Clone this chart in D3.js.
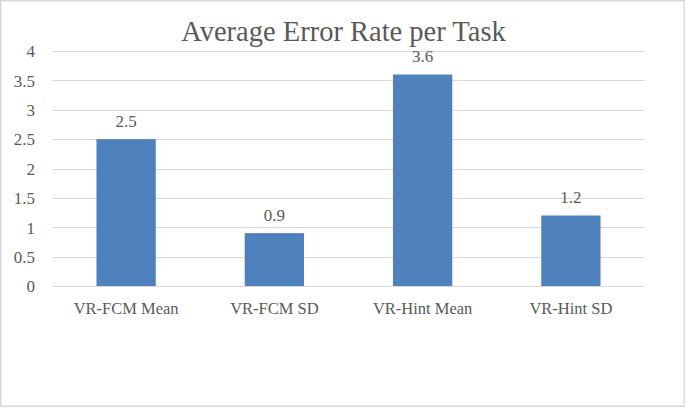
<!DOCTYPE html>
<html><head><meta charset="utf-8">
<script src="https://cdn.jsdelivr.net/npm/d3@7"></script>
<style>html,body{margin:0;padding:0;background:#fff;}svg{display:block;}</style>
</head><body>
<script>
const categories = ["VR-FCM Mean", "VR-FCM SD", "VR-Hint Mean", "VR-Hint SD"];
const values = [2.5, 0.9, 3.6, 1.2];
const yTicks = [0, 0.5, 1, 1.5, 2, 2.5, 3, 3.5, 4];
const title = "Average Error Rate per Task";

(function () {
const W = 685, H = 408;
const font = "'Liberation Serif', 'DejaVu Serif', serif";
const textColor = "#595959";
const svg = d3.select("body").append("svg").attr("width", W).attr("height", H);

svg.append("rect").attr("x", 0.75).attr("y", 0.75).attr("width", W - 1.5).attr("height", H - 2.5)
  .attr("fill", "#fff").attr("stroke", "#d9d9d9").attr("stroke-width", 1.5);

const mLeft = 52, mRight = 645, mTop = 51, mBottom = 286;
const x = d3.scaleBand().domain(categories).range([mLeft, mRight]).paddingInner(0.6).paddingOuter(0.3);
const y = d3.scaleLinear().domain([0, 4]).range([mBottom, mTop]);

svg.append("g").selectAll("line").data(yTicks).join("line")
  .attr("x1", mLeft).attr("x2", mRight)
  .attr("y1", d => Math.round(y(d)) + 0.5).attr("y2", d => Math.round(y(d)) + 0.5)
  .attr("stroke", "#d9d9d9").attr("stroke-width", 1);

const yAxis = d3.axisLeft(y).tickValues(yTicks).tickSize(0).tickPadding(0).tickFormat(d3.format("~g"));
const gy = svg.append("g").attr("transform", `translate(35,0)`).call(yAxis);
gy.select(".domain").remove();
gy.selectAll("text").attr("font-family", font).attr("font-size", 17).attr("fill", textColor).attr("dy", "0.34em");

svg.append("g").selectAll("rect").data(values).join("rect")
  .attr("x", (d, i) => x(categories[i]))
  .attr("width", x.bandwidth())
  .attr("y", d => y(d))
  .attr("height", d => y(0) - y(d))
  .attr("fill", "#4f81bd");

const xAxis = d3.axisBottom(x).tickSize(0).tickPadding(0);
const gx = svg.append("g").attr("transform", `translate(0,${mBottom})`).call(xAxis);
gx.select(".domain").attr("stroke", "#d9d9d9").attr("d", `M${mLeft},0.5H${mRight}`);
gx.selectAll("text").attr("font-family", font).attr("font-size", 16.5).attr("fill", textColor)
  .attr("dy", null).attr("y", 28);

svg.append("g").selectAll("text").data(values).join("text")
  .attr("x", (d, i) => x(categories[i]) + x.bandwidth() / 2)
  .attr("y", d => y(d) - 12.5)
  .attr("text-anchor", "middle")
  .attr("font-family", font).attr("font-size", 17).attr("fill", textColor)
  .text(d => d3.format("~g")(d));

svg.append("text").attr("x", W / 2 + 1).attr("y", 41).attr("text-anchor", "middle")
  .attr("font-family", font).attr("font-size", 28.5).attr("fill", textColor)
  .text(title);
})();
</script>
</body></html>
